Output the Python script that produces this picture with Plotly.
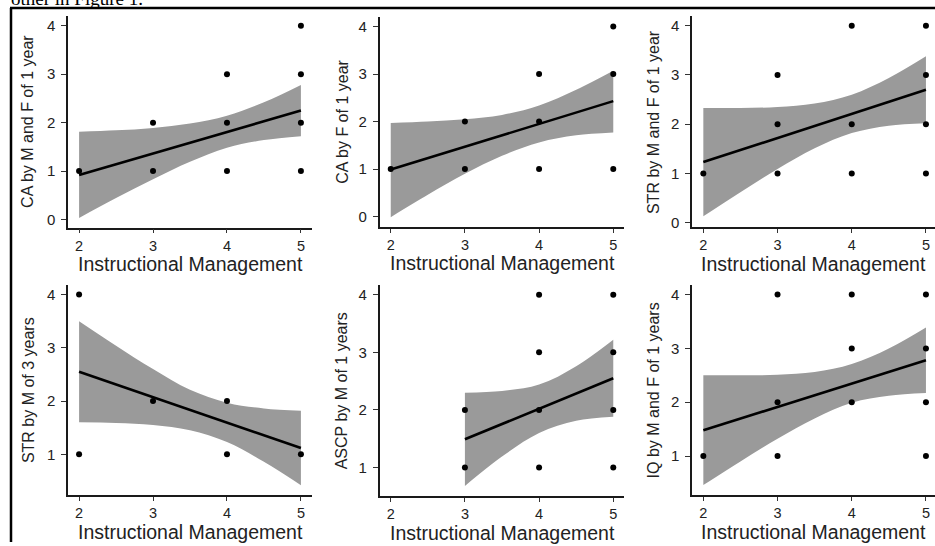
import plotly.graph_objects as go

W, H = 935, 546

# ---------------- data ----------------
x_ticks = [2, 3, 4, 5]
band_x = [2, 2.5, 3, 3.5, 4, 4.5, 5]

titles = ["CA by M and F of 1 year", "CA by F of 1 year", "STR by M and F of 1 year",
          "STR by M of 3 years", "ASCP by M of 1 years", "IQ by M and F of 1 years"]
x_title = "Instructional Management"

x1 = [2, 3, 3, 4, 4, 4, 5, 5, 5, 5]
y1 = [1, 1, 2, 1, 2, 3, 1, 2, 3, 4]
fit1_x = [2, 5]
fit1_y = [0.92, 2.25]
band1_lo = [0.03, 0.44, 0.83, 1.19, 1.48, 1.64, 1.72]
band1_hi = [1.81, 1.84, 1.89, 1.98, 2.14, 2.42, 2.78]

x2 = [2, 3, 3, 4, 4, 4, 5, 5, 5]
y2 = [1, 1, 2, 1, 2, 3, 1, 3, 4]
fit2_x = [2, 5]
fit2_y = [0.99, 2.43]
band2_lo = [-0.01, 0.46, 0.90, 1.28, 1.56, 1.71, 1.77]
band2_hi = [1.97, 2.00, 2.05, 2.14, 2.34, 2.67, 3.07]

x3 = [2, 3, 3, 3, 4, 4, 4, 5, 5, 5, 5]
y3 = [1, 1, 2, 3, 1, 2, 4, 1, 2, 3, 4]
fit3_x = [2, 5]
fit3_y = [1.23, 2.70]
band3_lo = [0.13, 0.62, 1.09, 1.51, 1.82, 1.97, 2.02]
band3_hi = [2.33, 2.33, 2.35, 2.42, 2.60, 2.94, 3.38]

x4 = [2, 2, 3, 4, 4, 5]
y4 = [1, 4, 2, 1, 2, 1]
fit4_x = [2, 5]
fit4_y = [2.55, 1.12]
band4_lo = [1.60, 1.59, 1.55, 1.45, 1.23, 0.86, 0.42]
band4_hi = [3.50, 3.04, 2.60, 2.21, 1.97, 1.86, 1.82]

x5 = [3, 3, 4, 4, 4, 4, 5, 5, 5, 5]
y5 = [1, 2, 1, 2, 3, 4, 1, 2, 3, 4]
fit5_x = [3, 5]
fit5_y = [1.49, 2.55]
band5_x = [3, 3.5, 4, 4.5, 5]
band5_lo = [0.68, 1.19, 1.60, 1.81, 1.88]
band5_hi = [2.30, 2.33, 2.44, 2.76, 3.22]

x6 = [2, 3, 3, 3, 4, 4, 4, 5, 5, 5, 5]
y6 = [1, 1, 2, 4, 2, 3, 4, 1, 2, 3, 4]
fit6_x = [2, 5]
fit6_y = [1.48, 2.78]
band6_lo = [0.46, 0.90, 1.32, 1.70, 1.99, 2.12, 2.17]
band6_hi = [2.50, 2.50, 2.51, 2.56, 2.71, 3.00, 3.39]

y_ticks_top = [0, 1, 2, 3, 4]
y_ticks_bottom = [1, 2, 3, 4]

panels = [
    dict(px=x1, py=y1, fx=fit1_x, fy=fit1_y, bx=band_x, lo=band1_lo, hi=band1_hi),
    dict(px=x2, py=y2, fx=fit2_x, fy=fit2_y, bx=band_x, lo=band2_lo, hi=band2_hi),
    dict(px=x3, py=y3, fx=fit3_x, fy=fit3_y, bx=band_x, lo=band3_lo, hi=band3_hi),
    dict(px=x4, py=y4, fx=fit4_x, fy=fit4_y, bx=band_x, lo=band4_lo, hi=band4_hi),
    dict(px=x5, py=y5, fx=fit5_x, fy=fit5_y, bx=band5_x, lo=band5_lo, hi=band5_hi),
    dict(px=x6, py=y6, fx=fit6_x, fy=fit6_y, bx=band_x, lo=band6_lo, hi=band6_hi),
]

# ---------------- layout (pixels) ----------------
geo = [
    ((68, 312), (16.3, 229.3), (1.85, 5.15), (-0.17, 4.2), y_ticks_top),
    ((379.6, 624.4), (17.1, 228.8), (1.85, 5.15), (-0.22, 4.2), y_ticks_top),
    ((692.2, 935), (16.3, 229.0), (1.85, 5.122), (-0.095, 4.195), y_ticks_top),
    ((68, 312), (287, 499), (1.85, 5.15), (0.23, 4.18), y_ticks_bottom),
    ((379.6, 624.4), (287, 500), (1.85, 5.15), (0.50, 4.17), y_ticks_bottom),
    ((692.2, 935), (287, 499), (1.85, 5.122), (0.27, 4.18), y_ticks_bottom),
]
ytitle_x = [28, 341.7, 653.3, 28, 341.7, 653.3]

FONT = "Liberation Sans, Arial, Helvetica, sans-serif"
INK = "#1a1a1a"
BAND = "#9a9a9a"

fig = go.Figure()
layout = dict(
    width=W, height=H, margin=dict(l=0, r=0, t=0, b=0),
    paper_bgcolor="white", plot_bgcolor="white", showlegend=False,
    font=dict(family=FONT, color=INK),
)
annotations = []

def fx(p):
    return p / W

def fy(p):
    return 1 - p / H

for i, (pan, g) in enumerate(zip(panels, geo)):
    (l, r), (t, b), xr, yr, yt = g
    n = "" if i == 0 else str(i + 1)
    xa, ya = "x" + n, "y" + n
    fig.add_trace(go.Scatter(x=pan["bx"], y=pan["lo"], mode="lines",
                             line=dict(width=0, shape="spline", color=BAND),
                             xaxis=xa, yaxis=ya, hoverinfo="skip"))
    fig.add_trace(go.Scatter(x=pan["bx"], y=pan["hi"], mode="lines", fill="tonexty",
                             fillcolor=BAND, line=dict(width=0, shape="spline", color=BAND),
                             xaxis=xa, yaxis=ya, hoverinfo="skip"))
    fig.add_trace(go.Scatter(x=pan["fx"], y=pan["fy"], mode="lines",
                             line=dict(color="black", width=2.6),
                             xaxis=xa, yaxis=ya))
    fig.add_trace(go.Scatter(x=pan["px"], y=pan["py"], mode="markers",
                             marker=dict(color="black", size=6),
                             xaxis=xa, yaxis=ya, cliponaxis=False))
    common = dict(showgrid=False, zeroline=False, showline=True, linecolor=INK,
                  linewidth=1.5, ticks="outside", ticklen=5, tickwidth=1.3,
                  tickcolor="#333333", tickfont=dict(size=15, color="#222222", family=FONT))
    layout["xaxis" + n] = dict(common, domain=[fx(l), fx(r)], range=list(xr),
                               tickvals=x_ticks, anchor=ya, ticklen=4,
                               tickfont=dict(size=14.5, color="#222222", family=FONT))
    layout["yaxis" + n] = dict(common, domain=[fy(b), fy(t)], range=list(yr),
                               tickvals=yt, anchor=xa, ticklabelstandoff=3)
    annotations.append(dict(text=x_title, xref="paper", yref="paper",
                            x=fx((l + r) / 2), y=fy(b + 36.5), xanchor="center", yanchor="middle",
                            showarrow=False, font=dict(size=19.5, color="#222222", family=FONT)))
    annotations.append(dict(text=titles[i], xref="paper", yref="paper",
                            x=fx(ytitle_x[i]), y=fy((t + b) / 2), xanchor="center", yanchor="middle",
                            textangle=-90, showarrow=False,
                            font=dict(size=16, color="#222222", family=FONT)))

annotations.append(dict(text="other in Figure 1.", xref="paper", yref="paper",
                        x=fx(9), y=fy(11), xanchor="left", yanchor="bottom",
                        showarrow=False,
                        font=dict(size=19, color="black", family="Liberation Serif, Times New Roman, serif")))

layout["annotations"] = annotations
layout["shapes"] = [
    dict(type="line", xref="paper", yref="paper", x0=fx(10), x1=1.0, y0=fy(8), y1=fy(8),
         line=dict(color="black", width=2.5)),
    dict(type="line", xref="paper", yref="paper", x0=fx(11), x1=fx(11), y0=fy(8), y1=0,
         line=dict(color="black", width=2.5)),
]
fig.update_layout(**layout)
fig.write_html("out.html", config={"displayModeBar": False},
               post_script="document.body.style.margin='0';document.body.style.overflow='hidden';")
